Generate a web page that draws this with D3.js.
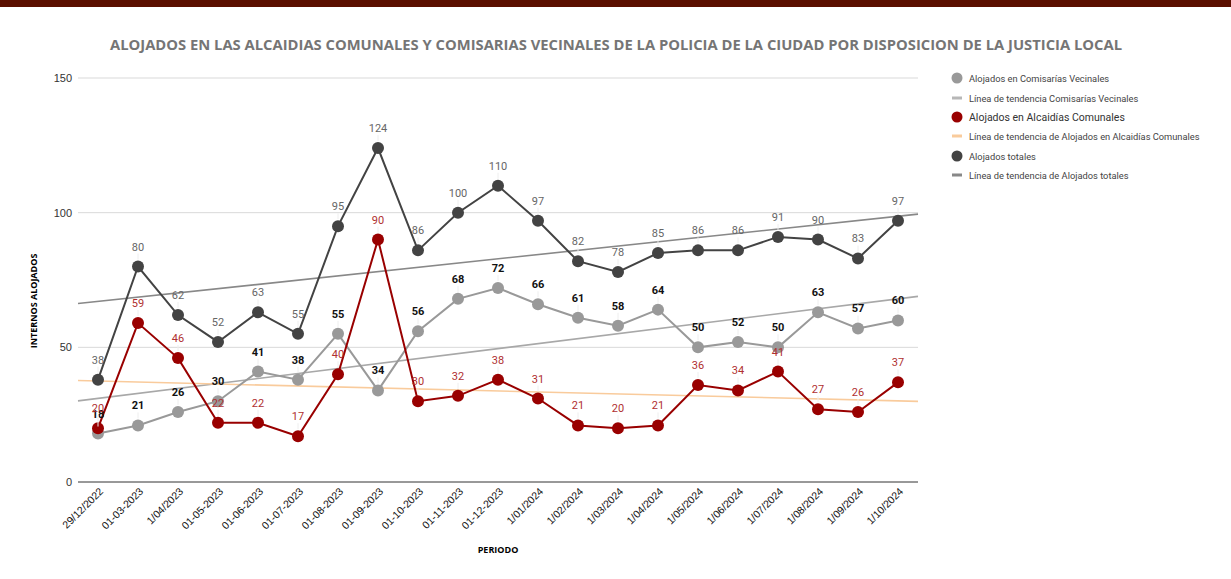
<!DOCTYPE html>
<html>
<head>
<meta charset="utf-8">
<script src="https://cdn.jsdelivr.net/npm/d3@7"></script>
<style>
body { margin: 0; background: #fff; }
svg { display: block; }
</style>
</head>
<body>
<svg width="1231" height="579"></svg>
<script>
var periodos = ["29/12/2022", "01-03-2023", "1/04/2023", "01-05-2023", "01-06-2023", "01-07-2023",
	"01-08-2023", "01-09-2023", "01-10-2023", "01-11-2023", "01-12-2023", "1/01/2024", "1/02/2024",
	"1/03/2024", "1/04/2024", "1/05/2024", "1/06/2024", "1/07/2024", "1/08/2024", "1/09/2024", "1/10/2024"];
var comisarias = [18, 21, 26, 30, 41, 38, 55, 34, 56, 68, 72, 66, 61, 58, 64, 50, 52, 50, 63, 57, 60];
var alcaidias  = [20, 59, 46, 22, 22, 17, 40, 90, 30, 32, 38, 31, 21, 20, 21, 36, 34, 41, 27, 26, 37];
var totales    = [38, 80, 62, 52, 63, 55, 95, 124, 86, 100, 110, 97, 82, 78, 85, 86, 86, 91, 90, 83, 97];
var yTicks = [0, 50, 100, 150];

var svg = d3.select("svg"),
	width = +svg.attr("width"),
	height = +svg.attr("height");

var plotLeft = 78, plotRight = 918, plotTop = 78, plotBottom = 482;

var x = d3.scalePoint().domain(d3.range(periodos.length)).range([plotLeft, plotRight]).padding(0.5);
var y = d3.scaleLinear().domain([0, 150]).range([plotBottom, plotTop]);

// top bar
svg.append("rect").attr("x", 0).attr("y", 0).attr("width", width).attr("height", 7).attr("fill", "#5b0f00");

// title
svg.append("text")
	.attr("x", 616).attr("y", 50)
	.attr("text-anchor", "middle")
	.attr("font-family", "'Open Sans', sans-serif")
	.attr("font-weight", "bold")
	.attr("font-size", "14px")
	.attr("fill", "#757575")
	.attr("textLength", 1012)
	.attr("lengthAdjust", "spacingAndGlyphs")
	.text("ALOJADOS EN LAS ALCAIDIAS COMUNALES Y COMISARIAS VECINALES DE LA POLICIA DE LA CIUDAD POR DISPOSICION DE LA JUSTICIA LOCAL");

// grid
svg.append("g").selectAll("line").data(yTicks.filter(function(d) { return d > 0; }))
	.enter().append("line")
	.attr("x1", plotLeft).attr("x2", plotRight)
	.attr("y1", function(d) { return y(d); }).attr("y2", function(d) { return y(d); })
	.attr("stroke", "#d9d9d9").attr("stroke-width", 1);

svg.append("g").selectAll("text").data(yTicks)
	.enter().append("text")
	.attr("x", 72).attr("y", function(d) { return y(d) + 4; })
	.attr("text-anchor", "end")
	.attr("font-family", "'Liberation Sans', Arial, sans-serif")
	.attr("font-size", "11px")
	.attr("fill", "#333")
	.text(function(d) { return d; });

// x axis
svg.append("line").attr("x1", plotLeft).attr("x2", plotRight).attr("y1", plotBottom).attr("y2", plotBottom)
	.attr("stroke", "#333").attr("stroke-width", 1);

svg.append("g").selectAll("text").data(periodos)
	.enter().append("text")
	.attr("transform", function(d, i) { return "translate(" + (x(i) + 6) + "," + (plotBottom + 10) + ") rotate(-45)"; })
	.attr("text-anchor", "end")
	.attr("font-family", "'Liberation Sans', Arial, sans-serif")
	.attr("font-size", "10.5px")
	.attr("fill", "#111")
	.text(function(d) { return d; });

svg.append("text")
	.attr("x", (plotLeft + plotRight) / 2).attr("y", 553)
	.attr("text-anchor", "middle")
	.attr("font-family", "'Open Sans', sans-serif")
	.attr("font-weight", "bold")
	.attr("font-size", "9px")
	.attr("fill", "#000")
	.text("PERIODO");

svg.append("text")
	.attr("transform", "translate(37," + 301 + ") rotate(-90)")
	.attr("text-anchor", "middle")
	.attr("font-family", "'Open Sans', sans-serif")
	.attr("font-weight", "bold")
	.attr("font-size", "9px")
	.attr("fill", "#000")
	.text("INTERNOS ALOJADOS");

// trend lines (least squares over index)
function trend(values) {
	var n = values.length, mx = (n - 1) / 2, my = d3.mean(values);
	var sxy = 0, sxx = 0;
	values.forEach(function(v, i) { sxy += (i - mx) * (v - my); sxx += (i - mx) * (i - mx); });
	var b = sxy / sxx, a = my - b * mx;
	return function(i) { return a + b * i; };
}

var series = [
	{ name: "comisarias", values: comisarias, color: "#999999", trendColor: "#a8a8a8", label: "#111", bold: true },
	{ name: "alcaidias", values: alcaidias, color: "#990000", trendColor: "#f9cb9c", label: "#b03030", bold: false },
	{ name: "totales", values: totales, color: "#434343", trendColor: "#888888", label: "#666", bold: false }
];

var step = x.step();
series.forEach(function(s) {
	var f = trend(s.values);
	var i0 = -0.5, i1 = s.values.length - 0.5;
	svg.append("line")
		.attr("x1", x(0) - step / 2).attr("y1", y(f(i0)))
		.attr("x2", x(s.values.length - 1) + step / 2).attr("y2", y(f(i1)))
		.attr("stroke", s.trendColor).attr("stroke-width", 1.6);
});

var line = d3.line().x(function(d, i) { return x(i); }).y(function(d) { return y(d); });

series.forEach(function(s) {
	var g = svg.append("g").attr("class", s.name);
	g.append("path").datum(s.values)
		.attr("d", line)
		.attr("fill", "none")
		.attr("stroke", s.color)
		.attr("stroke-width", 2);
	g.selectAll("circle").data(s.values).enter().append("circle")
		.attr("cx", function(d, i) { return x(i); })
		.attr("cy", function(d) { return y(d); })
		.attr("r", 6)
		.attr("fill", s.color);
});

// data labels
series.forEach(function(s) {
	var g = svg.append("g");
	g.selectAll("line").data(s.values).enter().append("line")
		.attr("x1", function(d, i) { return x(i); }).attr("x2", function(d, i) { return x(i); })
		.attr("y1", function(d) { return y(d) - 7; }).attr("y2", function(d) { return y(d) - 13; })
		.attr("stroke", "#eeeeee").attr("stroke-width", 1);
	g.selectAll("text").data(s.values).enter().append("text")
		.attr("x", function(d, i) { return x(i); })
		.attr("y", function(d) { return y(d) - 16; })
		.attr("text-anchor", "middle")
		.attr("font-family", "Roboto, sans-serif")
		.attr("font-size", "11px")
		.attr("font-weight", s.bold ? "bold" : "normal")
		.attr("fill", s.label)
		.text(function(d) { return d; });
});

// legend
var legend = [
	{ type: "dot", color: "#999999", text: "Alojados en Comisarías Vecinales", size: 9.3, fill: "#444" },
	{ type: "line", color: "#b7b7b7", text: "Línea de tendencia Comisarías Vecinales", size: 9.3, fill: "#444" },
	{ type: "dot", color: "#990000", text: "Alojados en Alcaidías Comunales", size: 10.5, fill: "#333" },
	{ type: "line", color: "#f9cb9c", text: "Línea de tendencia de Alojados en Alcaidías Comunales", size: 9.3, fill: "#444" },
	{ type: "dot", color: "#434343", text: "Alojados totales", size: 9.3, fill: "#444" },
	{ type: "line", color: "#888888", text: "Línea de tendencia de Alojados totales", size: 9.3, fill: "#444" }
];
var legendY = [78, 98, 117, 136, 156, 175];
var lg = svg.append("g").selectAll("g").data(legend).enter().append("g")
	.attr("transform", function(d, i) { return "translate(957," + legendY[i] + ")"; });
lg.filter(function(d) { return d.type === "dot"; }).append("circle")
	.attr("r", 5.5).attr("fill", function(d) { return d.color; });
lg.filter(function(d) { return d.type === "line"; }).append("rect")
	.attr("x", -5).attr("y", -1.5).attr("width", 10).attr("height", 3)
	.attr("fill", function(d) { return d.color; });
lg.append("text")
	.attr("x", 12).attr("y", function(d) { return d.size > 10 ? 4 : 3.5; })
	.attr("font-family", "Roboto, sans-serif")
	.attr("font-size", function(d) { return d.size + "px"; })
	.attr("fill", function(d) { return d.fill; })
	.text(function(d) { return d.text; });
</script>
</body>
</html>
